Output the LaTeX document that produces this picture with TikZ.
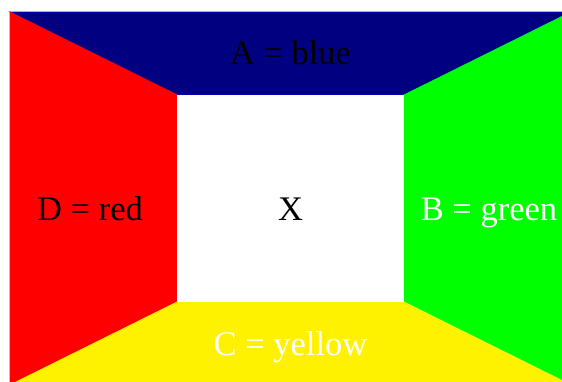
\documentclass[tikz,border=0pt]{standalone}
\usepackage{fontspec}
\setmainfont{Liberation Serif}
\usepackage{xcolor}
\definecolor{navyblue}{RGB}{0,0,128}
\definecolor{limegreen}{RGB}{0,255,0}

\begin{document}
\begin{tikzpicture}[
    x=1pt, y=-1pt,
    side/.style={line width=0.8pt, line join=miter},
    lbl/.style={
        anchor=base, inner sep=0pt,
        font=\fontsize{34.5}{40}\selectfont
    }
]
\useasboundingbox (0,0) rectangle (562,381);
\clip (0,0) rectangle (562,381);

% === ROHY ===

\coordinate (otl) at (10,12);
\coordinate (otr) at (571,12);
\coordinate (obr) at (571,385);
\coordinate (obl) at (10,385);

\coordinate (itl) at (177,95);
\coordinate (itr) at (404,95);
\coordinate (ibr) at (404,302);
\coordinate (ibl) at (177,302);

% === STRANY ===

\draw[side, fill=navyblue, draw=blue] (otl) -- (otr) -- (itr) -- (itl) -- cycle;
\draw[side, fill=red, draw=red] (otl) -- (itl) -- (ibl) -- (obl) -- cycle;
\draw[side, fill=limegreen, draw=limegreen] (otr) -- (obr) -- (ibr) -- (itr) -- cycle;
\draw[side, fill=yellow, draw=yellow] (ibl) -- (ibr) -- (obr) -- (obl) -- cycle;
\fill[white] (itl) rectangle (ibr);

% === POPISKY ===

\node[lbl] (a) at (290.5,64) {A = blue};
\node[lbl] (d) at (90,220) {D = red};
\node[lbl] (x) at (290.5,220) {X};
\node[lbl, text=white] (b) at (489,220) {B = green};
\node[lbl, text=white] (c) at (290.5,355) {C = yellow};

\end{tikzpicture}
\end{document}
